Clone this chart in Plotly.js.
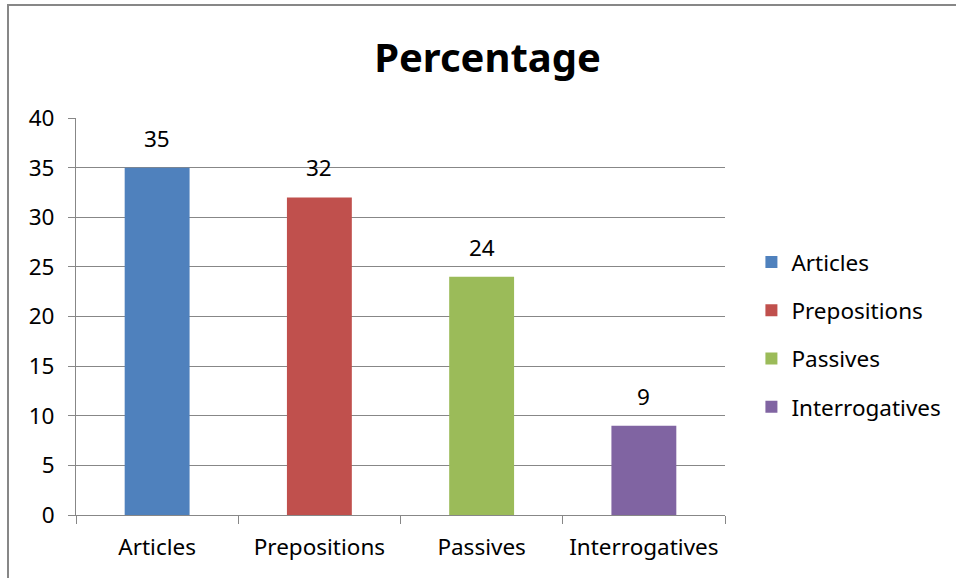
<!DOCTYPE html>
<html><head><meta charset="utf-8">
<script src="https://cdn.plot.ly/plotly-3.0.1.min.js"></script>
<style>
html,body{margin:0;padding:0;background:#fff;}
#frame{position:absolute;left:0;top:0;width:956px;height:578px;}
#border{position:absolute;left:7px;top:4px;width:960px;height:590px;border-left:2px solid #878787;border-top:2px solid #878787;pointer-events:none;}
#chart{position:absolute;left:0;top:0;width:956px;height:578px;}
</style></head>
<body>
<div id="frame"><div id="chart"></div><div id="border"></div></div>
<script>
const categories = ["Articles", "Prepositions", "Passives", "Interrogatives"];
const values = [35, 32, 24, 9];
const colors = ["#4F81BD", "#C0504D", "#9BBB59", "#8064A2"];
const yTicks = [0, 5, 10, 15, 20, 25, 30, 35, 40];

const FONT = "Noto Sans, Open Sans, sans-serif";
const FS = 22.5;
const traces = categories.map((c, i) => ({
  type: "bar",
  name: c,
  x: [c],
  y: [values[i]],
  width: 0.4,
  marker: {color: colors[i]},
  legendgroup: c,
  hoverinfo: "none"
}));

const annotations = categories.map((c, i) => ({
  x: c, y: values[i], xref: "x", yref: "y",
  text: String(values[i]), showarrow: false,
  yanchor: "bottom", yshift: 12,
  font: {family: FONT, size: FS, color: "#000"}
}));

const layout = {
  width: 956, height: 578,
  margin: {l: 76, r: 231, t: 118, b: 63, autoexpand: false},
  paper_bgcolor: "rgba(0,0,0,0)",
  plot_bgcolor: "#fff",
  barmode: "overlay",
  annotations: annotations,
  title: {text: "<b>Percentage</b>", font: {family: FONT, size: 40, color: "#000"},
          x: 0.51, xref: "container", y: 0.9, yref: "container", yanchor: "middle"},
  xaxis: {
    type: "category", categoryarray: categories, categoryorder: "array",
    showline: true, linecolor: "#878787", linewidth: 1,
    ticks: "outside", tickson: "boundaries", ticklen: 8, tickcolor: "#878787",
    tickfont: {family: FONT, size: FS, color: "#000"},
    ticklabelstandoff: 12,
    showgrid: false, zeroline: false
  },
  yaxis: {
    range: [0, 40], tickvals: yTicks,
    showline: true, linecolor: "#878787", linewidth: 1,
    ticks: "outside", ticklen: 7, tickcolor: "#878787",
    tickfont: {family: FONT, size: FS, color: "#000"},
    showgrid: true, gridcolor: "#878787", gridwidth: 1,
    zeroline: false, ticklabelstandoff: 9
  },
  showlegend: true,
  legend: {
    xref: "container", x: 0.786, xanchor: "left", y: 0.455, yanchor: "middle",
    font: {family: FONT, size: FS, color: "#000"},
    traceorder: "grouped", tracegroupgap: 16,
    itemwidth: 30, bgcolor: "rgba(0,0,0,0)"
  }
};

Plotly.newPlot("chart", traces, layout, {displayModeBar: false, staticPlot: true});
</script>
</body></html>
